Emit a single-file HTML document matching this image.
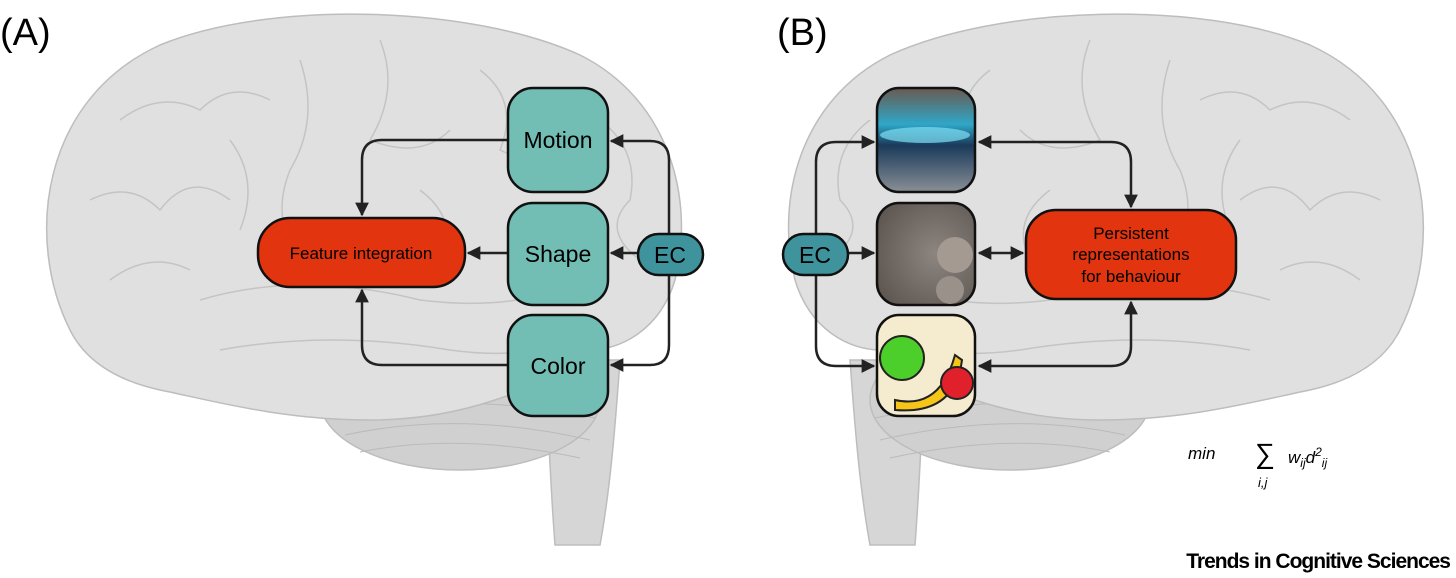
<!DOCTYPE html>
<html><head><meta charset="utf-8"><style>
html,body{margin:0;padding:0;background:#fff;}
svg{display:block;}
text{font-family:"Liberation Sans",sans-serif;}
</style></head><body>
<svg width="1456" height="578" viewBox="0 0 1456 578" xmlns="http://www.w3.org/2000/svg">
<defs>
<marker id="ar" viewBox="0 0 10 10" refX="9" refY="5" markerWidth="5.5" markerHeight="5.5" orient="auto-start-reverse"><path d="M0,0 L10,5 L0,10 z" fill="#222"/></marker>
<g id="brain">
  <path d="M545,360 L620,360 C615,430 610,490 600,545 L555,545 C550,480 548,420 545,360 Z" fill="#d6d6d6" stroke="#bdbdbd" stroke-width="1.5"/>
  <ellipse cx="460" cy="400" rx="140" ry="70" fill="#d0d0d0" stroke="#bdbdbd" stroke-width="1.5"/>
  <g stroke="#bababa" stroke-width="1" fill="none">
    <path d="M340,395 Q460,365 590,395"/><path d="M335,415 Q460,390 595,418"/><path d="M345,435 Q460,410 590,440"/><path d="M360,452 Q460,432 580,458"/>
  </g>
  <path d="M70,330 C25,240 40,100 160,45 C270,0 470,5 580,55 C670,100 695,200 675,280 C660,330 620,350 590,350 C540,390 460,420 370,420 C280,420 210,400 160,390 C115,380 85,360 70,330 Z" fill="#e0e0e0" stroke="#bdbdbd" stroke-width="1.5"/>
  <g stroke="#c4c4c4" stroke-width="1.5" fill="none">
    <path d="M120,120 Q160,90 200,110 Q230,80 270,100"/><path d="M300,60 Q320,120 290,170 Q270,220 300,260"/>
    <path d="M90,200 Q130,180 160,210 Q190,170 230,200"/><path d="M380,40 Q400,90 370,140 Q420,160 450,130"/>
    <path d="M480,70 Q520,100 500,150 Q540,170 560,140"/><path d="M200,300 Q300,270 420,300 Q500,310 560,290"/>
    <path d="M110,280 Q150,250 190,270"/><path d="M600,120 Q640,150 630,200 Q600,230 640,260"/>
    <path d="M230,140 Q260,180 240,230"/><path d="M420,190 Q460,220 440,260"/>
    <path d="M220,350 Q330,330 450,350 Q520,360 580,340"/>
  </g>
</g>
</defs>
<use href="#brain"/>
<use href="#brain" transform="matrix(-1,0,0,1,1470,0)"/>

<text x="0" y="45" font-size="38">(A)</text>
<text x="777" y="45" font-size="38">(B)</text>

<g stroke="#222" stroke-width="2.5" fill="none">
  <path d="M508,140 L382,140 Q362,140 362,160 L362,215" marker-end="url(#ar)"/>
  <path d="M508,365 L382,365 Q362,365 362,345 L362,290" marker-end="url(#ar)"/>
  <path d="M508,253 L468,253" marker-end="url(#ar)"/>
  <path d="M669,234 L669,160 Q669,141 650,141 L611,141" marker-end="url(#ar)"/>
  <path d="M669,275 L669,345 Q669,365 650,365 L611,365" marker-end="url(#ar)"/>
  <path d="M638,253 L611,253" marker-end="url(#ar)"/>
</g>
<g stroke="#111" stroke-width="2.5">
  <rect x="508" y="88" width="100" height="104" rx="25" fill="#72bdb4"/>
  <rect x="508" y="203" width="100" height="102" rx="25" fill="#72bdb4"/>
  <rect x="508" y="315" width="100" height="101" rx="25" fill="#72bdb4"/>
  <rect x="638" y="234" width="65" height="41" rx="20.5" fill="#3f939c"/>
  <rect x="258" y="218" width="207" height="69" rx="32" fill="#e2340e"/>
</g>
<text x="558" y="148" font-size="23" text-anchor="middle">Motion</text>
<text x="558" y="262" font-size="23" text-anchor="middle">Shape</text>
<text x="558" y="374" font-size="23" text-anchor="middle">Color</text>
<text x="670" y="263" font-size="23" text-anchor="middle">EC</text>
<text x="361" y="259" font-size="17" text-anchor="middle">Feature integration</text>

<g stroke="#222" stroke-width="2.5" fill="none">
  <path d="M816,234 L816,162 Q816,142 836,142 L874,142" marker-end="url(#ar)"/>
  <path d="M816,275 L816,346 Q816,366 836,366 L874,366" marker-end="url(#ar)"/>
  <path d="M848,253 L874,253" marker-end="url(#ar)"/>
  <path d="M979,142 L1111,142 Q1131,142 1131,162 L1131,207" marker-start="url(#ar)" marker-end="url(#ar)"/>
  <path d="M979,253 L1023,253" marker-start="url(#ar)" marker-end="url(#ar)"/>
  <path d="M979,366 L1111,366 Q1131,366 1131,346 L1131,302" marker-start="url(#ar)" marker-end="url(#ar)"/>
</g>
<defs>
  <linearGradient id="car" x1="0" y1="0" x2="0" y2="1"><stop offset="0" stop-color="#6a5a50"/><stop offset="0.35" stop-color="#2fa7c8"/><stop offset="0.55" stop-color="#1a3a5a"/><stop offset="1" stop-color="#8a8f95"/></linearGradient>
  <radialGradient id="mold" cx="0.6" cy="0.5" r="0.7"><stop offset="0" stop-color="#8c8580"/><stop offset="1" stop-color="#5c5550"/></radialGradient>
</defs>
<g stroke="#111" stroke-width="2.5">
  <rect x="877" y="88" width="98" height="104" rx="22" fill="url(#car)"/>
  <rect x="877" y="203" width="98" height="102" rx="22" fill="url(#mold)"/>
  <rect x="877" y="315" width="98" height="101" rx="22" fill="#f5ecd0"/>
</g>
<ellipse cx="925" cy="135" rx="45" ry="8" fill="#7fe0f5" opacity="0.7"/>
<circle cx="955" cy="255" r="18" fill="#a59a92"/><circle cx="950" cy="290" r="14" fill="#9a918a"/>
<circle cx="902" cy="358" r="22" fill="#4ccf2a" stroke="#222" stroke-width="2"/>
<path d="M895,400 Q940,410 955,355 L962,360 Q955,415 895,410 Z" fill="#f5c518" stroke="#222" stroke-width="2"/>
<circle cx="957" cy="383" r="16" fill="#e0202a" stroke="#222" stroke-width="2"/>
<g stroke="#111" stroke-width="2.5">
  <rect x="783" y="234" width="65" height="41" rx="20.5" fill="#3f939c"/>
  <rect x="1026" y="210" width="210" height="89" rx="30" fill="#e2340e"/>
</g>
<text x="815" y="263" font-size="23" text-anchor="middle">EC</text>
<g font-size="17" text-anchor="middle"><text x="1131" y="239">Persistent</text><text x="1131" y="260">representations</text><text x="1131" y="282">for behaviour</text></g>

<g font-family="Liberation Serif,serif" font-style="italic" font-size="17">
  <text x="1188" y="459">min</text>
  <text x="1255" y="463" font-style="normal" font-size="28">∑</text>
  <text x="1258" y="487" font-size="13">i,j</text>
  <text x="1288" y="463">w<tspan font-size="12" dy="4">ij</tspan><tspan dy="-4">d</tspan><tspan font-size="12" dy="-7">2</tspan><tspan font-size="12" dy="11">ij</tspan></text>
</g>
<text x="1450" y="568" font-size="21" font-weight="bold" text-anchor="end" letter-spacing="-1">Trends in Cognitive Sciences</text>
</svg>
</body></html>
